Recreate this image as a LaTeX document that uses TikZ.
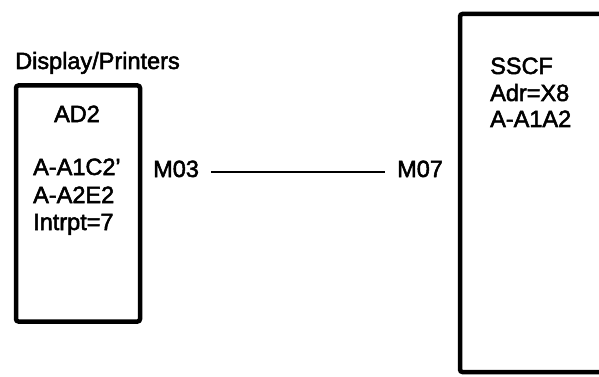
\documentclass[tikz,border=0pt]{standalone}
\usepackage{fontspec}
\setmainfont{Liberation Sans}[FakeBold=2.2]
\begin{document}
\begin{tikzpicture}[x=1pt,y=-1pt,
  lbl/.style={inner sep=0pt, anchor=base west, font=\fontsize{23.5}{27}\selectfont},
  boxline/.style={draw=black, line width=4.5pt, rounded corners=2.5pt},
  conn/.style={draw=black, line width=2.6pt}]
\useasboundingbox (0,0) rectangle (599,377);
\clip (0,0) rectangle (599,377);
% boxes
\node[boxline, minimum width=124pt, minimum height=236pt, inner sep=0pt] (dbox) at (78,203.5) {};
\node[boxline, minimum width=160pt, minimum height=358pt, inner sep=0pt] (sbox) at (540,193) {};
% left labels
\node[lbl] (disp) at (15,69) {Display/Printers};
\node[lbl, anchor=base] (ad2) at (77,122) {AD2};
\node[lbl] (a1) at (33,175) {A-A1C2'};
\node[lbl] (a2) at (33,203) {A-A2E2};
\node[lbl] (ir) at (33,230) {Intrpt=7};
% right labels
\node[lbl] (sscf) at (490,74) {SSCF};
\node[lbl] (adr) at (490,101) {Adr=X8};
\node[lbl] (aa) at (490,127) {A-A1A2};
% ports
\node[lbl] (m03) at (153,177) {M03};
\node[lbl] (m07) at (397,177) {M07};
\draw[conn, shorten <=12pt, shorten >=12pt] ([yshift=5pt]m03.base east) -- ([yshift=5pt]m07.base west);
\end{tikzpicture}
\end{document}
